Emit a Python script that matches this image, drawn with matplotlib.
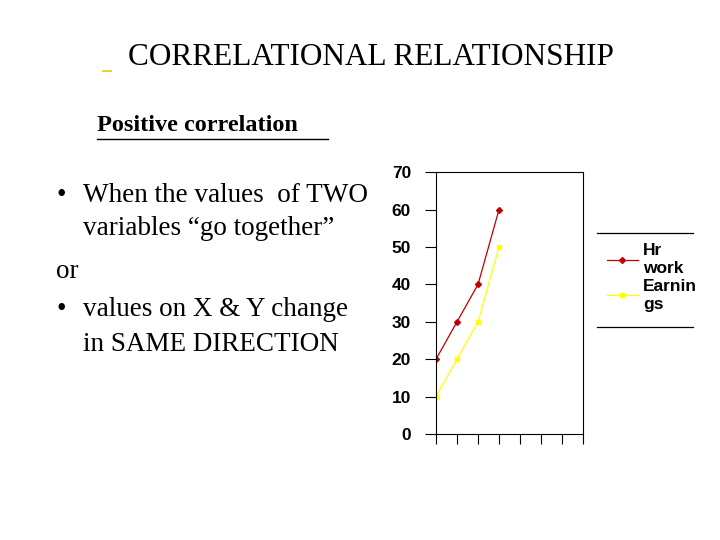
import matplotlib
matplotlib.use("Agg")
import matplotlib.pyplot as plt
from matplotlib.lines import Line2D

categories = [1, 2, 3, 4]
hr_work = [20, 30, 40, 60]
earnings = [10, 20, 30, 50]
yticks = [0, 10, 20, 30, 40, 50, 60, 70]
series_labels = ["Hr\nwork", "Earnin\ngs"]

fig = plt.figure(figsize=(7.2, 5.4), dpi=100)
serif = "Liberation Serif"
sans = "Liberation Sans"

fig.text(0.515, 0.893, "CORRELATIONAL RELATIONSHIP", family=serif, fontsize=22.5,
         ha="center", va="center")
fig.add_artist(Line2D([0.143, 0.154], [0.868, 0.868], color="#e0d000", lw=1.2))
fig.text(0.135, 0.768, "Positive correlation", family=serif, fontsize=17.5, weight="bold",
         ha="left", va="center")
fig.add_artist(Line2D([0.135, 0.456], [0.742, 0.742], color="black", lw=1))

lines = [(0.078, "•", 0.115, "When the values  of TWO"),
         (None, None, 0.115, "variables “go together”"),
         (0.078, None, 0.078, "or"),
         (0.078, "•", 0.115, "values on X & Y change"),
         (None, None, 0.115, "in SAME DIRECTION")]
ys = [0.638, 0.576, 0.498, 0.426, 0.362]
for (bx, b, tx, t), y in zip(lines, ys):
    if b:
        fig.text(bx, y, b, family=serif, fontsize=19.5, va="center")
    fig.text(tx, y, t, family=serif, fontsize=19.5, va="center")

ax = fig.add_axes([0.6056, 0.1963, 0.2042, 0.485])
x = [c - 1 for c in categories]
ax.plot(x, hr_work, color="#c00000", lw=0.9, marker="D", ms=3, label=series_labels[0])
ax.plot(x, earnings, color="#ffff00", lw=0.9, marker="s", ms=3, label=series_labels[1])
ax.set_xlim(0, 7)
ax.set_ylim(0, 70)
ax.set_yticks(yticks)
ax.set_xticks(range(8))
ax.set_xticklabels([])
ax.tick_params(axis="y", direction="out", length=8, width=0.8, pad=10)
ax.tick_params(axis="x", direction="out", length=7, width=0.8)
for lab in ax.get_yticklabels():
    lab.set_family(sans); lab.set_weight("bold"); lab.set_fontsize(12.5)
for s in ax.spines.values():
    s.set_linewidth(0.8)

leg = ax.legend(loc="upper left", bbox_to_anchor=(0.833, 0.562), bbox_transform=fig.transFigure,
                frameon=False, prop={"family": sans, "weight": "bold", "size": 12.5},
                handlelength=1.8, handletextpad=0.3, labelspacing=0.2, borderaxespad=0)
fig.add_artist(Line2D([0.829, 0.963], [0.568, 0.568], color="black", lw=0.9))
fig.add_artist(Line2D([0.829, 0.963], [0.394, 0.394], color="black", lw=0.9))

fig.savefig("out.png", dpi=100)
